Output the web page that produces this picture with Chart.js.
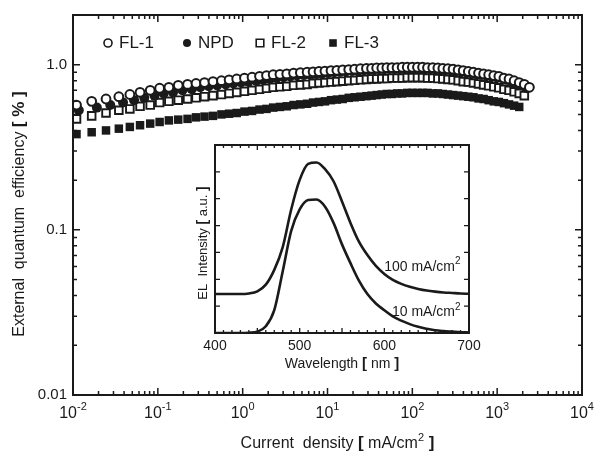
<!DOCTYPE html>
<html lang="en">
<head>
<meta charset="UTF-8" />
<title>EQE vs current density</title>
<script src="https://cdn.jsdelivr.net/npm/chart.js"></script>
<style>
    body { margin: 0; background: #fff; }
    .wrap { position: relative; width: 594px; height: 458px; }
    #mainChart { position: absolute; left: 0; top: 0; }
    #insetChart { position: absolute; left: 170px; top: 135px; }
</style>
</head>
<body>
<div class="wrap">
    <canvas id="mainChart" width="594" height="458"></canvas>
    <canvas id="insetChart" width="325" height="240"></canvas>
</div>
<script>
// current density (mA/cm2) for FL-1, FL-2, FL-3
const currentFL = [0.011, 0.0166, 0.0245, 0.0347, 0.0468, 0.0617, 0.0813, 0.105, 0.135, 0.174,
    0.224, 0.282, 0.355, 0.447, 0.562, 0.692, 0.851, 1.05, 1.29, 1.58,
    1.91, 2.29, 2.75, 3.31, 3.98, 4.79, 5.75, 6.76, 7.94, 9.33,
    11.0, 12.9, 15.1, 17.8, 20.9, 24.5, 28.8, 33.1, 38.0, 43.7,
    50.1, 57.5, 66.1, 75.9, 87.1, 100, 115, 132, 151, 174,
    200, 229, 263, 302, 347, 398, 457, 525, 603, 692,
    794, 912, 1047, 1202, 1380, 1585, 1820, 2089, 2399];
// current density for NPD
const currentNPD = [0.0117, 0.0191, 0.0275, 0.0389, 0.0525, 0.0692, 0.0912, 0.117, 0.151, 0.195,
    0.251, 0.316, 0.398, 0.501, 0.631, 0.776, 0.955, 1.17, 1.45, 1.74,
    2.09, 2.51, 3.02, 3.63, 4.37, 5.25, 6.31, 7.41, 8.71, 10.2,
    12.0, 14.1, 16.6, 19.5, 22.9, 26.9, 30.9, 35.5, 40.7, 46.8,
    53.7, 61.7, 70.8, 81.3, 93.3, 107, 123, 141, 162, 186,
    214, 245, 282, 324, 372, 427, 490, 562, 646, 741,
    851, 977, 1122, 1288, 1479, 1698, 1950, 2239];

// external quantum efficiency (%)
const eqeFL1 = [0.57, 0.60, 0.62, 0.64, 0.66, 0.68, 0.70, 0.72, 0.73, 0.75,
    0.76, 0.77, 0.78, 0.79, 0.80, 0.81, 0.82, 0.83, 0.84, 0.85,
    0.86, 0.87, 0.875, 0.88, 0.89, 0.895, 0.90, 0.905, 0.91, 0.915,
    0.92, 0.925, 0.93, 0.935, 0.94, 0.945, 0.95, 0.95, 0.955, 0.955,
    0.96, 0.96, 0.96, 0.965, 0.965, 0.965, 0.965, 0.965, 0.96, 0.96,
    0.955, 0.95, 0.945, 0.94, 0.93, 0.92, 0.91, 0.90, 0.89, 0.88,
    0.87, 0.86, 0.85, 0.83, 0.82, 0.80, 0.78, 0.76, 0.73];
const eqeNPD = [0.53, 0.55, 0.57, 0.59, 0.61, 0.63, 0.65, 0.67, 0.68, 0.70,
    0.71, 0.73, 0.74, 0.75, 0.76, 0.77, 0.78, 0.79, 0.80, 0.81,
    0.82, 0.83, 0.84, 0.85, 0.86, 0.865, 0.87, 0.88, 0.885, 0.89,
    0.90, 0.905, 0.91, 0.915, 0.92, 0.925, 0.93, 0.935, 0.94, 0.94,
    0.945, 0.945, 0.95, 0.95, 0.95, 0.95, 0.95, 0.945, 0.945, 0.94,
    0.935, 0.93, 0.925, 0.92, 0.91, 0.90, 0.89, 0.88, 0.87, 0.86,
    0.85, 0.84, 0.83, 0.81, 0.79, 0.77, 0.75, 0.72];
const eqeFL2 = [0.47, 0.49, 0.51, 0.53, 0.54, 0.56, 0.57, 0.59, 0.60, 0.61,
    0.62, 0.63, 0.64, 0.65, 0.66, 0.67, 0.68, 0.69, 0.70, 0.71,
    0.72, 0.73, 0.735, 0.74, 0.75, 0.755, 0.76, 0.77, 0.775, 0.78,
    0.785, 0.79, 0.795, 0.80, 0.805, 0.81, 0.815, 0.82, 0.82, 0.825,
    0.825, 0.83, 0.83, 0.83, 0.835, 0.835, 0.835, 0.835, 0.83, 0.83,
    0.825, 0.82, 0.815, 0.81, 0.80, 0.79, 0.785, 0.775, 0.765, 0.755,
    0.745, 0.735, 0.725, 0.71, 0.70, 0.685, 0.67, 0.65, null];
const eqeFL3 = [0.38, 0.39, 0.40, 0.41, 0.42, 0.43, 0.44, 0.45, 0.46, 0.465,
    0.47, 0.48, 0.485, 0.49, 0.50, 0.505, 0.51, 0.52, 0.525, 0.535,
    0.54, 0.55, 0.555, 0.56, 0.57, 0.575, 0.58, 0.59, 0.595, 0.60,
    0.61, 0.615, 0.62, 0.63, 0.635, 0.64, 0.645, 0.65, 0.655, 0.66,
    0.665, 0.665, 0.67, 0.67, 0.675, 0.675, 0.675, 0.675, 0.675, 0.67,
    0.67, 0.665, 0.66, 0.655, 0.65, 0.645, 0.64, 0.635, 0.625, 0.62,
    0.61, 0.60, 0.595, 0.585, 0.575, 0.565, 0.555, null, null];

// inset: EL spectra
const wavelength = [400, 410, 420, 430, 440, 450, 460, 470, 480, 490,
    500, 510, 520, 530, 540, 550, 560, 570, 580, 590,
    600, 610, 620, 630, 640, 650, 660, 670, 680, 690, 700];
const el10 = [0, 0, 0, 0, 0.01, 0.05, 0.25, 0.85, 2.3, 3.8,
    4.6, 4.95, 4.97, 4.7, 4.1, 3.3, 2.6, 1.95, 1.45, 1.1,
    0.85, 0.62, 0.46, 0.33, 0.23, 0.16, 0.1, 0.07, 0.05, 0.03, 0.02];
const el100 = [1.45, 1.45, 1.45, 1.45, 1.47, 1.55, 1.8, 2.35, 3.2, 4.6,
    5.7, 6.3, 6.35, 6.1, 5.65, 4.9, 4.1, 3.4, 2.9, 2.5,
    2.2, 1.98, 1.83, 1.72, 1.64, 1.58, 1.54, 1.51, 1.49, 1.47, 1.46];

const xDecades = [-2, -1, 0, 1, 2, 3, 4];
const yTickLabels = ['0.01', '0.1', '1.0'];
const wlLabels = [400, 500, 600, 700];

const FONT = '"Liberation Sans", Arial, sans-serif';
const INK = '#1a1a1a';

const pairs = (xs, ys) => xs.map((v, i) => ({ x: v, y: ys[i] })).filter(p => p.y != null);

// draw text made of pieces with different fonts
function richText(ctx, parts, x, y, align) {
    let total = 0;
    parts.forEach(p => { ctx.font = p[1]; total += ctx.measureText(p[0]).width; });
    let cx = align === 'center' ? x - total / 2 : align === 'right' ? x - total : x;
    ctx.textAlign = 'left';
    parts.forEach(p => {
        ctx.font = p[1];
        ctx.fillText(p[0], cx, y + (p[2] || 0));
        cx += ctx.measureText(p[0]).width;
    });
}

function marker(ctx, style, filled, cx, cy, r) {
    ctx.beginPath();
    if (style === 'circle') ctx.arc(cx, cy, r, 0, Math.PI * 2);
    else ctx.rect(cx - r, cy - r, 2 * r, 2 * r);
    if (filled) ctx.fill();
    else { ctx.fillStyle = '#fff'; ctx.fill(); ctx.fillStyle = INK; ctx.stroke(); }
}

const mainAxes = {
    id: 'mainAxes',
    afterDraw(chart) {
        const { ctx, chartArea: a, scales: { x, y } } = chart;
        ctx.save();
        ctx.strokeStyle = INK;
        ctx.fillStyle = INK;
        ctx.lineWidth = 2;
        ctx.strokeRect(a.left, a.top, a.right - a.left, a.bottom - a.top);

        ctx.lineWidth = 1.5;
        ctx.beginPath();
        for (let d = -2; d < 4; d++) {
            for (let m = 1; m < 10; m++) {
                const px = x.getPixelForValue(m * Math.pow(10, d));
                const len = m === 1 ? 7 : 4;
                ctx.moveTo(px, a.bottom); ctx.lineTo(px, a.bottom - len);
                ctx.moveTo(px, a.top); ctx.lineTo(px, a.top + len);
            }
        }
        for (let d = -2; d <= 0; d++) {
            for (let m = 1; m < 10; m++) {
                const v = m * Math.pow(10, d);
                if (v > y.max) continue;
                const py = y.getPixelForValue(v);
                const len = m === 1 ? 7 : 4;
                ctx.moveTo(a.left, py); ctx.lineTo(a.left + len, py);
                ctx.moveTo(a.right, py); ctx.lineTo(a.right - len, py);
            }
        }
        ctx.stroke();

        // y tick labels
        ctx.font = '15px ' + FONT;
        ctx.textAlign = 'right';
        ctx.textBaseline = 'middle';
        yTickLabels.forEach(t => ctx.fillText(t, a.left - 6, y.getPixelForValue(parseFloat(t))));

        // x tick labels 10^n
        ctx.textBaseline = 'alphabetic';
        xDecades.forEach(d => {
            const px = x.getPixelForValue(Math.pow(10, d));
            const exp = d < 0 ? '-' + (-d) : String(d);
            richText(ctx, [['10', '16px ' + FONT], [exp, '11px ' + FONT, -8]], px, a.bottom + 23, 'center');
        });

        // axis titles
        richText(ctx, [
            ['Current  density ', '16px ' + FONT],
            ['[', 'bold 17px ' + FONT],
            [' mA/cm', '16px ' + FONT],
            ['2', '11px ' + FONT, -7],
            [' ]', 'bold 17px ' + FONT]
        ], (a.left + a.right) / 2 + 10, 448, 'center');

        ctx.save();
        ctx.translate(24, (a.top + a.bottom) / 2 + 9);
        ctx.rotate(-Math.PI / 2);
        richText(ctx, [
            ['External  quantum  efficiency ', '16px ' + FONT],
            ['[ % ]', 'bold 17px ' + FONT]
        ], 0, 0, 'center');
        ctx.restore();

        // legend inside the plot
        const lx = [108, 187, 260, 333];
        ctx.lineWidth = 1.6;
        ctx.font = '17px ' + FONT;
        ctx.textBaseline = 'middle';
        chart.data.datasets.forEach((ds, i) => {
            const filled = ds.backgroundColor !== '#fff';
            marker(ctx, ds.pointStyle, filled, lx[i], 43, ds.pointStyle === 'circle' ? 4 : 3.8);
            ctx.textAlign = 'left';
            ctx.fillText(ds.label, lx[i] + 11, 43);
        });
        ctx.restore();
    }
};

new Chart(document.getElementById('mainChart'), {
    type: 'scatter',
    data: {
        datasets: [
            { label: 'FL-1', data: pairs(currentFL, eqeFL1), pointStyle: 'circle', pointRadius: 4.4, backgroundColor: '#fff', borderColor: INK, borderWidth: 2 },
            { label: 'NPD', data: pairs(currentNPD, eqeNPD), pointStyle: 'circle', pointRadius: 5, backgroundColor: INK, borderColor: INK, borderWidth: 0 },
            { label: 'FL-2', data: pairs(currentFL, eqeFL2), pointStyle: 'rect', pointRadius: 5.4, backgroundColor: '#fff', borderColor: INK, borderWidth: 1.9 },
            { label: 'FL-3', data: pairs(currentFL, eqeFL3), pointStyle: 'rect', pointRadius: 6, backgroundColor: INK, borderColor: INK, borderWidth: 0 }
        ]
    },
    options: {
        responsive: false,
        animation: false,
        layout: { padding: { top: 15, right: 12, left: 0, bottom: 0 } },
        plugins: { legend: { display: false }, tooltip: { enabled: false } },
        scales: {
            x: {
                type: 'logarithmic', min: 0.01, max: 10000,
                grid: { display: false }, border: { display: false }, ticks: { display: false },
                afterFit(s) { s.height = 63; }
            },
            y: {
                type: 'logarithmic', min: 0.01, max: 2,
                grid: { display: false }, border: { display: false }, ticks: { display: false },
                afterFit(s) { s.width = 73; }
            }
        }
    },
    plugins: [mainAxes]
});

const insetAxes = {
    id: 'insetAxes',
    afterDraw(chart) {
        const { ctx, chartArea: a, scales: { x, y } } = chart;
        ctx.save();
        ctx.strokeStyle = INK;
        ctx.fillStyle = INK;
        ctx.lineWidth = 2;
        ctx.strokeRect(a.left, a.top, a.right - a.left, a.bottom - a.top);
        ctx.lineWidth = 1.3;
        ctx.beginPath();
        for (let w = 410; w < 700; w += 10) {
            const px = x.getPixelForValue(w);
            const len = w % 50 === 0 ? 5 : 3;
            ctx.moveTo(px, a.bottom); ctx.lineTo(px, a.bottom - len);
            ctx.moveTo(px, a.top); ctx.lineTo(px, a.top + len);
        }
        for (let v = 1; v < 7; v++) {
            const py = y.getPixelForValue(v);
            ctx.moveTo(a.left, py); ctx.lineTo(a.left + 5, py);
            ctx.moveTo(a.right, py); ctx.lineTo(a.right - 5, py);
        }
        ctx.stroke();

        ctx.font = '14px ' + FONT;
        ctx.textAlign = 'center';
        ctx.textBaseline = 'middle';
        wlLabels.forEach(w => ctx.fillText(String(w), x.getPixelForValue(w), a.bottom + 13));

        ctx.textBaseline = 'alphabetic';
        richText(ctx, [
            ['Wavelength ', '14px ' + FONT],
            ['[', 'bold 15px ' + FONT],
            [' nm ', '14px ' + FONT],
            [']', 'bold 15px ' + FONT]
        ], (a.left + a.right) / 2, a.bottom + 35, 'center');

        ctx.save();
        ctx.translate(a.left - 8, (a.top + a.bottom) / 2 + 4);
        ctx.rotate(-Math.PI / 2);
        richText(ctx, [
            ['EL  Intensity ', '13px ' + FONT],
            ['[', 'bold 14px ' + FONT],
            [' a.u. ', '13px ' + FONT],
            [']', 'bold 14px ' + FONT]
        ], 0, 0, 'center');
        ctx.restore();

        // curve annotations
        const notes = [['100 mA/cm', 2.47], ['10 mA/cm', 0.79]];
        ctx.textBaseline = 'middle';
        notes.forEach(n => {
            richText(ctx, [[n[0], '14px ' + FONT], ['2', '10px ' + FONT, -5]],
                x.getPixelForValue(690), y.getPixelForValue(n[1]), 'right');
        });
        ctx.restore();
    }
};

new Chart(document.getElementById('insetChart'), {
    type: 'scatter',
    data: {
        datasets: [
            { label: '100 mA/cm2', data: pairs(wavelength, el100), showLine: true, pointRadius: 0, borderColor: INK, borderWidth: 2.6, cubicInterpolationMode: 'monotone' },
            { label: '10 mA/cm2', data: pairs(wavelength, el10), showLine: true, pointRadius: 0, borderColor: INK, borderWidth: 2.6, cubicInterpolationMode: 'monotone' }
        ]
    },
    options: {
        responsive: false,
        animation: false,
        layout: { padding: { top: 10, right: 26, left: 0, bottom: 0 } },
        plugins: { legend: { display: false }, tooltip: { enabled: false } },
        scales: {
            x: {
                type: 'linear', min: 400, max: 700,
                grid: { display: false }, border: { display: false }, ticks: { display: false },
                afterFit(s) { s.height = 42; }
            },
            y: {
                type: 'linear', min: 0, max: 7,
                grid: { display: false }, border: { display: false }, ticks: { display: false },
                afterFit(s) { s.width = 45; }
            }
        }
    },
    plugins: [insetAxes]
});
</script>
</body>
</html>
